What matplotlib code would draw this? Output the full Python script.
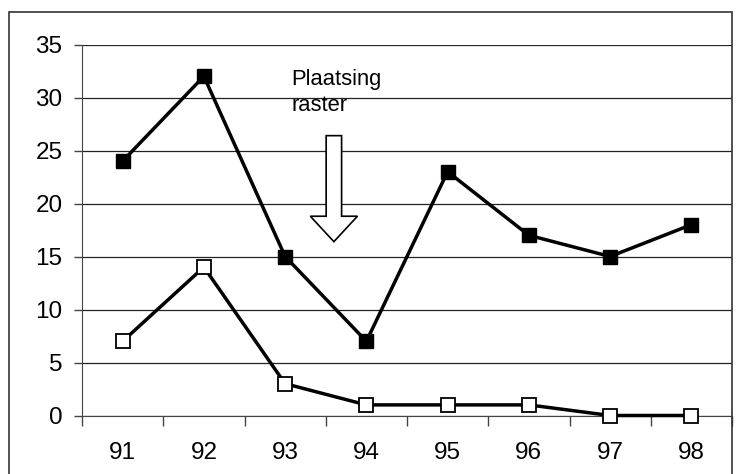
import numpy as np
import matplotlib.pyplot as plt
from matplotlib.patches import FancyArrow, Rectangle

plt.rcParams['font.family'] = ['Liberation Sans', 'DejaVu Sans']

years = ['91', '92', '93', '94', '95', '96', '97', '98']
filled = [24, 32, 15, 7, 23, 17, 15, 18]
open_sq = [7, 14, 3, 1, 1, 1, 0, 0]

fig = plt.figure(figsize=(7.4, 4.74), dpi=100)
ax = fig.add_axes([82/740, 1-415.5/474, 650/740, 371/474])

x = np.arange(len(years))
ax.plot(x, filled, color='black', lw=2.5, marker='s', ms=10,
        mfc='black', mec='black', zorder=3, clip_on=False)
ax.plot(x, open_sq, color='black', lw=2.5, marker='s', ms=10,
        mfc='white', mec='black', mew=1.3, zorder=3, clip_on=False)

ax.set_xlim(-0.5, len(years) - 0.5)
ax.set_ylim(0, 35)
ax.set_yticks(np.arange(0, 36, 5))
ax.set_xticks(x)
ax.set_xticklabels(years)
ax.set_xticks(np.arange(-0.5, len(years)), minor=True)
ax.tick_params(axis='x', which='major', length=0, pad=19, labelsize=17.5)
ax.tick_params(axis='x', which='minor', length=7, width=1, color='#444')
ax.tick_params(axis='y', length=6, width=1, color='#444', pad=8, labelsize=17.5)
ax.yaxis.grid(True, color='#222', lw=0.9)
ax.set_axisbelow(True)
for s in ['top', 'right']:
    ax.spines[s].set_visible(False)
ax.spines['left'].set_color('#444')
ax.spines['bottom'].set_color('#444')

ax.text(2.08, 32.7, 'Plaatsing\nraster', fontsize=15.8, va='top', ha='left',
        linespacing=1.35)
ax.add_patch(FancyArrow(2.6, 26.4, 0, -10.0, width=0.19, head_width=0.58,
                        head_length=2.4, length_includes_head=True,
                        fc='white', ec='black', lw=1.2, zorder=2))

fig.add_artist(Rectangle((9/740, -0.05), 723/740, 1.05 - 12/474,
                         transform=fig.transFigure, fill=False,
                         ec='#333', lw=1.2))

fig.savefig('out.png', dpi=100)
